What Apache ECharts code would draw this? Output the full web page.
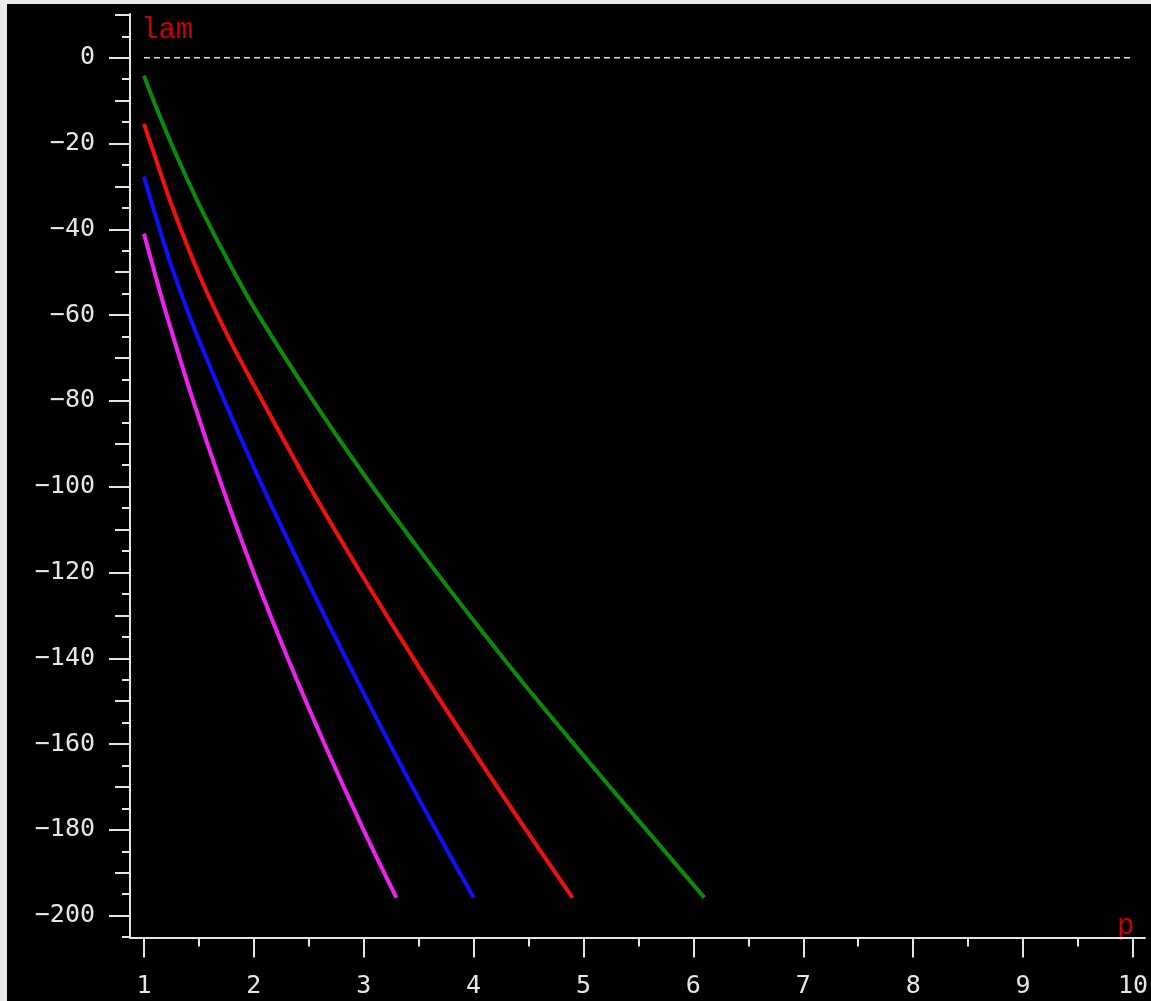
<!DOCTYPE html>
<html><head><meta charset="utf-8">
<script src="https://cdn.jsdelivr.net/npm/echarts@6/dist/echarts.min.js"></script>
<style>
html,body{margin:0;padding:0;background:#e9e9e9;width:1151px;height:1001px;overflow:hidden;}
#c{position:absolute;left:7px;top:4px;width:1144px;height:997px;background:#000;}
</style></head><body><div id="c"></div>
<script>
// ---- data ----
const xMajorTicks = [1, 2, 3, 4, 5, 6, 7, 8, 9, 10];
const xMinorTicks = [1.5, 2.5, 3.5, 4.5, 5.5, 6.5, 7.5, 8.5, 9.5];
const yMajorTicks = [-200, -180, -160, -140, -120, -100, -80, -60, -40, -20, 0];
const yMidTicks = [-190, -170, -150, -130, -110, -90, -70, -50, -30, -10, 10];
const yMinorTicks = [-205, -195, -185, -175, -165, -155, -145, -135, -125, -115, -105, -95, -85, -75, -65, -55, -45, -35, -25, -15, -5, 5];

const greenP = [1.0, 1.1, 1.25, 1.5, 1.75, 2.0, 2.5, 3.0, 3.5, 4.0, 4.5, 5.0, 5.5, 6.1];
const greenLam = [-4.2, -10.8, -20.1, -34.1, -46.6, -58.2, -78.4, -97.1, -114.5, -131.2, -147.3, -162.7, -177.8, -195.8];
const redP = [1.0, 1.1, 1.25, 1.5, 1.75, 2.0, 2.5, 3.0, 3.5, 4.0, 4.5, 4.9];
const redLam = [-15.4, -23.0, -34.2, -50.4, -64.2, -76.3, -99.6, -121.3, -142.0, -161.7, -180.9, -195.8];
const blueP = [1.0, 1.1, 1.25, 1.5, 2.0, 2.5, 3.0, 3.5, 4.0];
const blueLam = [-27.7, -36.4, -48.6, -65.8, -95.5, -122.6, -148.2, -172.7, -195.8];
const magentaP = [1.0, 1.096, 1.207, 1.448, 1.712, 1.998, 2.309, 2.643, 2.998, 3.297];
const magentaLam = [-41.0, -50.0, -60.0, -80.0, -100.0, -120.0, -140.0, -160.0, -180.0, -195.8];
const zeroLineP = [1, 10];
const zeroLineLam = [0, 0];

const xName = 'p';
const yName = 'lam';

// ---- chart ----
const zip = (a, b) => a.map((v, i) => [v, b[i]]);
const AX = '#e4e4e4';
const LBL = '#e6e6e6';
const XMIN = 0.873, XMAX = 10.109, YMIN = -205.1, YMAX = 10.2;
const fmt = v => String(v).replace('-', '\u2212');

function xAx(ticks, len, showLine, showLabel) {
  return {
    type: 'value', min: XMIN, max: XMAX, position: 'bottom', offset: 0,
    axisLine: { show: showLine, onZero: false, lineStyle: { color: AX, width: 2 } },
    axisTick: { show: true, customValues: ticks, length: len, lineStyle: { color: AX, width: 2 } },
    axisLabel: showLabel ? { show: true, customValues: ticks, margin: 36, color: LBL,
      fontFamily: 'DejaVu Sans Mono', fontSize: 25, formatter: fmt } : { show: false },
    splitLine: { show: false }
  };
}
function yAx(ticks, len, showLine, showLabel) {
  return {
    type: 'value', min: YMIN, max: YMAX, position: 'left', offset: 0,
    axisLine: { show: showLine, onZero: false, lineStyle: { color: AX, width: 2 } },
    axisTick: { show: true, customValues: ticks, length: len, lineStyle: { color: AX, width: 2 } },
    axisLabel: showLabel ? { show: true, customValues: ticks, margin: 35, color: LBL,
      fontFamily: 'DejaVu Sans Mono', fontSize: 25, formatter: fmt } : { show: false },
    splitLine: { show: false }
  };
}
function curve(name, p, lam, color) {
  return { name, type: 'line', data: zip(p, lam), smooth: 0.3, showSymbol: false,
    lineStyle: { color, width: 4 }, itemStyle: { color }, z: 3, silent: true };
}

const chart = echarts.init(document.getElementById('c'), null, { renderer: 'canvas' });
chart.setOption({
  backgroundColor: '#000',
  animation: false,
  grid: { left: 123, top: 10, width: 1015, height: 923.5, containLabel: false },
  xAxis: [xAx(xMajorTicks, 20, true, true), xAx(xMinorTicks, 9, false, false)],
  yAxis: [yAx(yMajorTicks, 21, true, true), yAx(yMidTicks, 15, false, false), yAx(yMinorTicks, 8, false, false)],
  series: [
    { name: 'zero', type: 'line', data: zip(zeroLineP, zeroLineLam), showSymbol: false,
      lineStyle: { color: '#e0e0e0', width: 1.5, type: [6, 4] }, silent: true, z: 2 },
    curve('g', greenP, greenLam, '#0b8a0b'),
    curve('r', redP, redLam, '#f01010'),
    curve('b', blueP, blueLam, '#1010ff'),
    curve('m', magentaP, magentaLam, '#ee22ee')
  ],
  graphic: [
    { type: 'text', left: 134, top: 12, style: { text: yName, fill: '#cc0000',
      font: '29px "Liberation Mono", monospace' } },
    { type: 'text', left: 1110, top: 908, style: { text: xName, fill: '#cc0000',
      font: '29px "Liberation Mono", monospace' } }
  ]
});
</script></body></html>
